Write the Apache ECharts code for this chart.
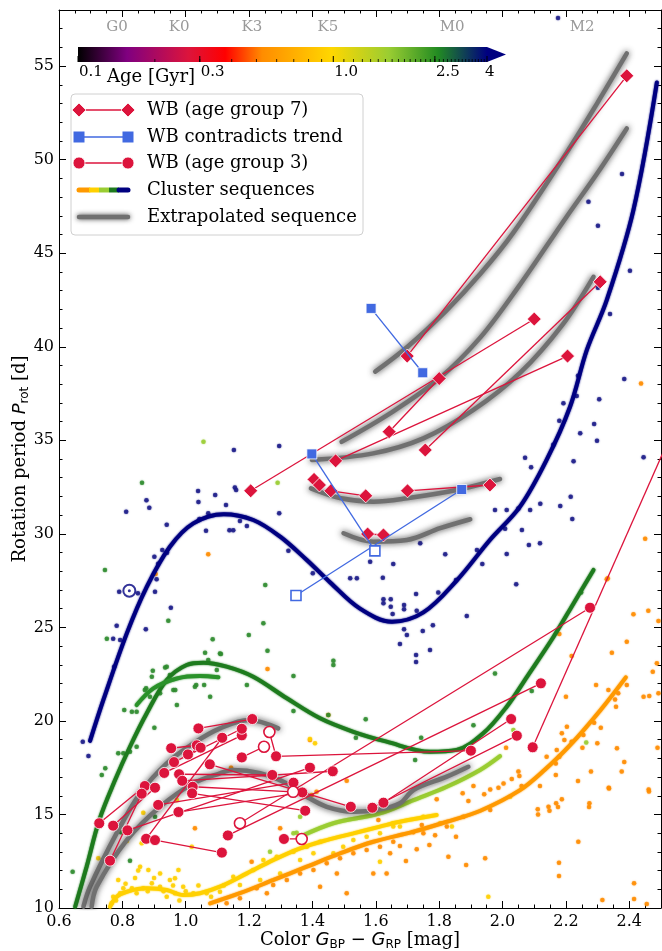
<!DOCTYPE html>
<html><head><meta charset="utf-8">
<script src="https://cdn.jsdelivr.net/npm/echarts/dist/echarts.min.js"></script>
<style>html,body{margin:0;padding:0;background:#fff}#c{width:662px;height:951px}</style>
</head><body><div id="c"></div>
<script>
// ---------------- data ----------------
const spectralTypes = ['G0', 'K0', 'K3', 'K5', 'M0', 'M2'];
const spectralColors = [0.783, 0.979, 1.209, 1.449, 1.841, 2.251];

const navyDots = [[0.812,31.18],[0.876,31.79],[0.885,31.40],[0.940,30.49],[1.039,32.29],[1.040,31.70],[1.093,32.07],[1.152,34.48],[1.155,32.47],[1.159,32.34],[1.127,31.54],[1.071,31.10],[1.043,30.79],[1.064,30.17],[1.138,30.19],[1.150,30.19],[1.171,30.69],[1.193,30.42],[1.295,34.69],[1.295,31.10],[0.926,29.14],[0.901,28.78],[0.913,28.40],[0.941,28.99],[0.908,27.57],[0.903,26.91],[0.849,26.82],[0.790,26.91],[0.953,26.05],[0.782,25.09],[0.771,24.39],[0.793,24.32],[0.874,24.90],[0.774,22.90],[0.675,18.89],[0.693,18.12],[1.324,29.10],[1.401,27.89],[1.582,28.51],[1.655,28.39],[1.740,29.49],[1.819,28.91],[1.919,29.14],[1.936,28.39],[2.013,28.92],[2.083,29.40],[2.087,31.27],[2.050,31.36],[2.013,31.27],[1.976,31.27],[2.071,34.07],[2.090,33.56],[1.540,27.62],[1.519,27.62],[1.622,27.65],[2.238,38.45],[2.384,38.27],[2.234,37.37],[2.192,36.98],[2.305,37.19],[2.179,36.05],[2.289,35.87],[2.245,35.37],[2.298,34.98],[2.160,34.76],[2.224,33.88],[2.445,34.09],[2.215,31.98],[2.182,31.49],[2.119,31.61],[2.220,30.79],[2.061,30.20],[2.008,30.27],[2.118,29.49],[2.377,49.24],[2.271,47.75],[2.301,46.47],[2.402,44.06],[2.301,43.16],[2.339,41.75],[1.624,26.50],[1.647,26.50],[1.624,26.29],[1.647,26.10],[1.689,26.20],[1.689,25.97],[1.653,25.71],[1.727,26.78],[1.797,26.87],[1.853,27.53],[2.043,27.30],[1.729,25.89],[1.780,25.11],[1.748,24.81],[1.689,24.90],[1.698,24.59],[1.676,24.11],[1.771,23.79],[1.727,23.52],[1.727,23.15],[1.887,25.61],[2.175,57.57]];
const greenDots = [[0.862,32.73],[0.745,28.07],[0.945,25.36],[0.751,24.39],[1.085,24.36],[1.111,23.58],[1.061,23.65],[1.071,23.26],[1.199,24.59],[1.245,25.22],[1.251,27.26],[1.193,21.92],[1.098,22.72],[1.058,21.92],[1.033,21.92],[0.950,22.45],[0.935,22.86],[0.896,22.68],[0.893,22.36],[0.875,21.74],[0.887,21.29],[0.919,21.48],[0.961,21.65],[1.077,21.29],[0.940,22.90],[0.871,21.65],[0.967,21.65],[1.029,21.83],[0.830,20.49],[0.845,20.49],[0.901,19.64],[0.787,18.27],[0.803,18.27],[0.824,18.35],[0.845,18.62],[0.746,17.47],[0.806,20.58],[0.972,20.85],[1.340,22.40],[1.450,20.32],[1.537,19.10],[1.568,20.09],[1.340,20.53],[1.466,23.22],[1.466,22.99],[1.108,23.61],[0.643,11.94],[0.824,12.53],[0.735,17.11],[0.796,14.05],[0.903,14.88],[1.976,22.54],[2.092,21.60],[1.908,19.77],[1.743,19.10],[1.724,17.91],[2.248,26.87],[1.258,23.75]];
const yellowGreenDots = [[1.290,32.73],[1.056,34.92],[1.361,14.88],[1.350,14.02],[1.340,13.99],[1.266,13.01],[2.034,19.51],[2.264,18.84]];
const yellowDots = [[0.866,15.09],[0.814,13.58],[0.724,12.66],[0.787,11.50],[0.803,11.05],[0.771,10.60],[0.766,10.25],[0.856,12.21],[0.882,12.03],[0.830,11.05],[0.866,11.05],[0.919,11.14],[0.950,11.50],[0.977,12.03],[0.992,11.14],[1.024,10.79],[1.066,10.79],[1.108,10.87],[0.919,11.85],[0.966,11.59],[0.893,11.32],[0.793,10.79],[0.845,10.79],[0.940,10.60],[0.966,10.79],[1.150,11.67],[1.213,12.03],[1.245,12.57],[1.287,12.74],[1.340,13.01],[1.382,13.28],[1.424,13.54],[1.171,11.23],[1.235,11.50],[1.298,11.85],[1.361,12.57],[1.403,12.92],[1.466,12.92],[1.497,13.28],[1.529,13.63],[1.571,13.81],[1.613,13.99],[1.655,14.35],[0.972,15.77],[0.861,13.46],[1.019,13.28],[1.840,14.35],[1.803,14.53],[1.750,14.88],[1.676,14.35],[1.655,14.53],[2.024,15.95],[1.955,10.60],[1.613,12.47],[1.392,19.03],[1.408,18.80],[0.78,10.4],[0.81,11.3],[0.84,11.6],[0.88,10.9],[0.90,11.6],[0.93,10.9],[0.96,11.2],[1.00,10.9],[1.04,11.2],[1.08,10.6],[0.85,12.0],[0.98,10.4],[1.12,11.2]];
const orangeDots = [[2.329,27.57],[2.413,25.70],[2.460,25.89],[2.492,25.34],[2.392,24.23],[2.487,23.08],[2.474,22.63],[2.345,23.65],[2.295,21.92],[2.392,21.92],[2.365,21.48],[2.334,21.65],[2.445,21.29],[2.463,21.33],[2.492,21.48],[2.355,21.15],[2.358,20.76],[2.200,21.29],[2.218,23.47],[2.179,24.65],[2.289,19.90],[2.310,19.64],[2.203,19.69],[2.187,19.34],[2.195,18.98],[2.218,18.89],[2.255,19.25],[2.252,18.57],[2.299,18.80],[2.361,18.54],[2.384,17.80],[2.376,17.29],[2.279,17.29],[2.238,16.79],[2.171,18.45],[2.179,18.09],[2.139,18.09],[2.168,17.73],[2.168,17.11],[2.118,16.52],[2.335,16.43],[2.274,15.60],[2.187,15.81],[2.169,15.60],[2.145,15.41],[2.111,15.28],[2.239,13.54],[2.178,12.42],[2.315,10.43],[2.415,11.32],[2.455,10.21],[2.461,16.34],[2.489,18.57],[2.050,17.29],[2.060,16.52],[2.011,18.57],[1.908,16.52],[1.874,16.13],[1.892,15.72],[1.961,16.34],[1.942,16.08],[1.987,16.43],[2.003,16.66],[2.029,16.90],[2.053,17.06],[1.961,15.24],[1.876,14.88],[1.792,15.81],[1.745,14.44],[1.769,13.37],[1.729,13.14],[1.676,13.31],[1.695,12.51],[1.829,12.74],[1.885,12.30],[1.945,12.66],[1.853,13.81],[1.787,13.89],[1.750,13.99],[1.824,14.35],[1.718,14.05],[1.143,17.50],[1.392,18.98],[1.398,16.04],[1.208,12.47],[1.224,11.05],[1.276,11.23],[1.319,11.50],[1.361,11.85],[1.403,12.03],[1.445,12.39],[1.487,12.66],[1.529,12.92],[1.571,13.10],[1.613,13.28],[1.655,13.54],[1.129,10.25],[1.171,10.52],[1.256,10.79],[1.424,11.14],[1.477,11.85],[1.508,10.79],[1.592,11.85],[1.634,11.85],[1.645,12.92],[1.608,14.70],[1.413,16.22],[1.029,14.26],[1.071,28.91],[0.905,27.85],[1.258,22.77],[2.437,38.04],[2.450,29.74],[2.332,27.62],[1.298,14.26],[1.450,20.32],[1.508,16.80],[2.112,15.0],[2.148,15.2],[2.175,15.40],[2.273,15.40],[2.336,16.39],[2.462,16.23],[2.178,11.71],[2.415,10.48]];

// cluster sequences
const seqOrange = [[1.077,10.25],[1.171,10.79],[1.277,11.50],[1.382,12.21],[1.487,12.92],[1.592,13.54],[1.719,14.08],[1.824,14.61],[1.93,15.2],[2.055,16.3],[2.134,17.4],[2.213,18.7],[2.31,20.6],[2.389,22.33]];
const seqYellow = [[0.761,10.07],[0.782,10.60],[0.814,10.87],[0.877,11.05],[0.940,10.96],[0.992,10.69],[1.045,10.79],[1.108,11.14],[1.193,11.85],[1.277,12.57],[1.361,13.19],[1.445,13.63],[1.529,13.99],[1.613,14.35],[1.676,14.61],[1.792,14.97]];
const seqYellowGreen = [[1.361,13.81],[1.466,14.53],[1.613,15.06],[1.719,15.77],[1.824,16.48],[1.929,17.38],[1.992,18.12]];
const seqGreen = [[0.651,10.07],[0.687,12.2],[0.727,14.7],[0.777,16.84],[0.824,18.62],[0.877,20.41],[0.940,22.19],[1.003,22.99],[1.056,23.11],[1.129,22.90],[1.213,22.36],[1.319,21.21],[1.424,20.14],[1.529,19.42],[1.634,18.89],[1.771,18.35],[1.855,18.45],[1.939,19.34],[2.013,20.76],[2.077,22.36],[2.161,24.50],[2.224,26.28],[2.287,28.07]];
const seqGreen2 = [[0.845,20.85],[0.898,21.74],[0.972,22.27],[1.045,22.40],[1.103,22.33]];
const seqNavy = [[0.698,18.93],[0.740,21.12],[0.814,24.68],[0.877,27.17],[0.950,29.31],[1.024,30.56],[1.120,31.05],[1.213,30.74],[1.298,29.85],[1.382,28.60],[1.456,27.4],[1.55,26.0],[1.651,25.3],[1.75,25.8],[1.855,27.5],[1.960,29.67],[2.055,31.45],[2.139,33.95],[2.213,36.79],[2.266,39.83],[2.329,42.50],[2.413,47.31],[2.487,54.13]];

// extrapolated sequences
const extrapA = [[1.598,38.67],[1.70,40.0],[1.824,41.96],[1.93,43.9],[2.034,46.1],[2.203,50.4],[2.298,53.0],[2.392,55.68]];
const extrapB = [[1.492,34.92],[1.645,36.44],[1.80,38.3],[1.93,40.5],[2.05,43.2],[2.2,46.9],[2.3,49.3],[2.392,51.67]];
const extrapC = [[1.398,33.95],[1.592,34.30],[1.750,35.10],[1.908,36.62],[2.055,38.6],[2.19,41.2],[2.287,43.74]];
const extrapD = [[1.395,32.43],[1.490,31.90],[1.592,31.72],[1.698,31.90],[1.855,32.34],[1.992,32.93]];
const extrapE = [[1.498,30.03],[1.592,29.58],[1.698,29.67],[1.803,30.30],[1.898,30.78]];
const extrapF = [[0.677,10.07],[0.698,11.14],[0.782,14.0],[0.856,16.13],[0.940,17.73],[1.024,18.80],[1.108,19.60],[1.20,20.05],[1.292,19.60]];
const extrapG = [[0.703,10.07],[0.719,11.14],[0.814,13.63],[0.919,15.41],[1.024,16.66],[1.108,17.20],[1.150,17.38],[1.235,17.20],[1.319,16.66],[1.382,15.95],[1.445,15.41],[1.529,15.15],[1.603,15.24],[1.676,15.60],[1.719,16.31],[1.824,17.02],[1.892,17.55]];

// wide binaries: [color, period, open(1)]
const wbGroup7 = [
  [[1.699,39.5],[2.392,54.48]],
  [[1.205,32.3],[2.10,41.48]],
  [[1.642,35.46],[1.80,38.3]],
  [[1.756,34.48],[2.308,43.47]],
  [[1.473,33.9],[2.205,39.5]],
  [[1.405,32.91],[1.422,32.61]],
  [[1.458,32.3],[1.568,32.03]],
  [[1.70,32.3],[1.96,32.61]],
  [[1.574,29.99],[1.624,29.94]]
];
const wbContra = [
  [[1.585,42.05],[1.748,38.61]],
  [[1.398,34.27],[1.597,29.09,1]],
  [[1.871,32.37],[1.348,26.7,1]]
];
const wbGroup3 = [
  [[0.727,14.53],[0.871,16.52]],
  [[0.771,14.40],[0.903,16.43]],
  [[0.761,12.53],[0.861,16.11]],
  [[0.816,14.15],[1.392,17.50]],
  [[0.875,13.70],[1.115,19.10]],
  [[0.903,13.63],[1.114,12.96]],
  [[1.076,17.68],[1.521,15.41]],
  [[1.264,19.41,1],[1.285,18.11],[1.900,18.41]],
  [[1.133,13.88],[2.121,22.01]],
  [[1.171,14.53,1],[2.276,26.05]],
  [[1.624,15.63],[2.027,20.10]],
  [[1.589,15.36],[2.045,19.21]],
  [[2.095,18.59],[2.56,36.4]],
  [[1.310,13.69],[1.366,13.69,1]],
  [[1.177,18.05],[1.247,18.62,1]],
  [[1.040,19.60],[1.210,20.10]],
  [[0.954,18.54],[1.035,18.70]],
  [[0.932,17.22],[1.177,19.23]],
  [[0.963,17.80],[1.177,19.58]],
  [[0.979,17.15],[1.273,17.11]],
  [[0.989,16.80],[1.464,17.31]],
  [[0.977,15.13],[1.368,16.18]],
  [[0.913,15.51],[1.340,16.70]],
  [[1.007,18.21],[1.047,18.57]],
  [[1.022,16.48],[1.339,16.21,1]],
  [[1.020,16.13],[1.377,15.20]]
];
const sunPoint = [[0.822, 26.96]];

// colour bar (age, Gyr)
const cbRange = [0.1, 4];
const cbLabels = [0.1, 0.3, 1.0, 2.5, 4];
const cbLabelText = ['0.1', '0.3', '1.0', '2.5', '4'];
const cbStops = [[0,'#000000'],[0.12,'#800080'],[0.27,'#dc143c'],[0.36,'#ff0000'],[0.45,'#ff8c00'],[0.62,'#ffd700'],[0.76,'#9acd32'],[0.88,'#228b22'],[1,'#000080']];

// ---------------- chart ----------------
const SERIF = 'DejaVu Serif';
const SANS = 'DejaVu Sans';
const RED = '#dc143c', BLUE = '#4169e1', GRAY = '#707070';
const chart = echarts.init(document.getElementById('c'), null, {renderer: 'canvas'});

const cbMinor = [];
for (let v = 0.2; v < 0.95; v += 0.1) cbMinor.push(+v.toFixed(1));
for (let v = 1.1; v < 3.95; v += 0.1) cbMinor.push(+v.toFixed(1));

function dots(data, color, z) {
  return {type: 'scatter', data, symbolSize: 4.5, z: z || 2, silent: true,
    itemStyle: {color, opacity: 0.8, shadowColor: color, shadowBlur: 1.5}};
}
function seq(data, color, width, z) {
  return {type: 'line', data, smooth: 0.35, symbol: 'none', z: z || 3, silent: true,
    lineStyle: {color, width: width || 4, cap: 'round', shadowColor: color, shadowBlur: 2}};
}
function gray(data) {
  return {type: 'line', data, smooth: 0.35, symbol: 'none', z: 4, silent: true,
    lineStyle: {color: GRAY, width: 4.5, cap: 'round', shadowColor: 'rgba(40,40,40,0.85)', shadowBlur: 6}};
}
function wb(groups, symbol, size, color, z) {
  return groups.map(g => ({
    type: 'line', z, silent: true, symbol, symbolSize: size, showAllSymbol: true,
    lineStyle: {color, width: 1.3},
    itemStyle: {color, borderColor: '#fff', borderWidth: 0.8},
    data: g.map(p => p[2] ? {value: [p[0], p[1]], itemStyle: {color: '#fff', borderColor: color, borderWidth: 1.6}} : {value: [p[0], p[1]]})
  }));
}

const tickAxisCommon = {type: 'value', min: 0.6, max: 2.5, gridIndex: 0, splitLine: {show: false}};
const series = [
  dots(orangeDots, '#ff8c00'),
  dots(yellowDots, '#ffd000'),
  dots(yellowGreenDots, '#9acd32'),
  dots(greenDots, '#2e8b2e'),
  dots(navyDots, '#1c1c88'),
  seq(seqOrange, '#ff9900'),
  seq(seqYellow, '#ffd000'),
  seq(seqYellowGreen, '#9acd32'),
  seq(seqGreen, '#1e7b1e'),
  seq(seqGreen2, '#2a922a'),
  seq(seqNavy, '#000080'),
  gray(extrapA), gray(extrapB), gray(extrapC), gray(extrapD), gray(extrapE), gray(extrapF), gray(extrapG),
  {type: 'scatter', data: sunPoint, symbol: 'circle', symbolSize: 12, z: 6,
    itemStyle: {color: '#fff', borderColor: '#000080', borderWidth: 2}},
  {type: 'scatter', data: sunPoint, symbol: 'circle', symbolSize: 3, z: 7, itemStyle: {color: '#000080'}},
  ...wb(wbGroup3, 'circle', 11, RED, 10),
  ...wb(wbGroup7, 'diamond', 14, RED, 11),
  ...wb(wbContra, 'rect', 10, BLUE, 12),
  {type: 'scatter', z: 5, silent: true, symbolSize: 0,
    data: spectralTypes.map((s, i) => ({name: s, value: [spectralColors[i], 57.1]})),
    label: {show: true, position: 'inside', formatter: p => p.name, color: '#808080', fontFamily: SERIF, fontSize: 15}},
  // colour bar
  {type: 'custom', xAxisIndex: 4, yAxisIndex: 4, silent: true, z: 20,
    data: [[cbRange[0], 0, cbRange[1], 1]],
    renderItem: (params, api) => {
      const a = api.coord([api.value(0), 1]);
      const b = api.coord([api.value(2), 0]);
      const grad = new echarts.graphic.LinearGradient(0, 0, 1, 0, cbStops.map(s => ({offset: s[0], color: s[1]})));
      return {type: 'group', children: [
        {type: 'rect', shape: {x: a[0], y: a[1], width: b[0] - a[0], height: b[1] - a[1]}, style: {fill: grad}},
        {type: 'polygon', shape: {points: [[b[0], a[1]], [b[0] + 19, (a[1] + b[1]) / 2], [b[0], b[1]]]}, style: {fill: '#000080'}}
      ]};
    }},
  {type: 'custom', xAxisIndex: 4, yAxisIndex: 4, silent: true, z: 21,
    data: cbMinor.map(v => [v]),
    renderItem: (params, api) => {
      const p = api.coord([api.value(0), 0]);
      return {type: 'line', shape: {x1: p[0], y1: p[1] - 3, x2: p[0], y2: p[1]}, style: {stroke: '#000', lineWidth: 0.8}};
    }},
  {type: 'custom', xAxisIndex: 4, yAxisIndex: 4, silent: true, z: 21,
    data: cbLabels.map((v, i) => [v, i]),
    renderItem: (params, api) => {
      const p = api.coord([api.value(0), 0]);
      const t = cbLabelText[api.value(1)];
      return {type: 'group', children: [
        {type: 'line', shape: {x1: p[0], y1: p[1] - 6, x2: p[0], y2: p[1]}, style: {stroke: '#000', lineWidth: 1}},
        {type: 'text', x: p[0] + (t === '4' ? -2 : 1), y: p[1] + 3, style: {text: t, fill: '#000', font: '15px "DejaVu Serif"', textAlign: 'left', textVerticalAlign: 'top'}}
      ]};
    }}
];

// legend graphic
const LX1 = 79, LX2 = 128, TX = 147;
const rows = [110, 137, 163, 190, 217];
const diamond = (cx, cy, r) => ({type: 'polygon', shape: {points: [[cx, cy - r], [cx + r, cy], [cx, cy + r], [cx - r, cy]]}, style: {fill: RED, stroke: '#fff', lineWidth: 0.8}});
const legendEls = [
  {type: 'rect', shape: {x: 71, y: 94, width: 292, height: 141, r: 4}, style: {fill: 'rgba(255,255,255,0.85)', stroke: '#d0d0d0', lineWidth: 1}},
  {type: 'line', shape: {x1: LX1, y1: rows[0], x2: LX2, y2: rows[0]}, style: {stroke: RED, lineWidth: 1.3}},
  diamond(LX1, rows[0], 7), diamond(LX2, rows[0], 7),
  {type: 'line', shape: {x1: LX1, y1: rows[1], x2: LX2, y2: rows[1]}, style: {stroke: BLUE, lineWidth: 1.3}},
  {type: 'rect', shape: {x: LX1 - 5.5, y: rows[1] - 5.5, width: 11, height: 11}, style: {fill: BLUE}},
  {type: 'rect', shape: {x: LX2 - 5.5, y: rows[1] - 5.5, width: 11, height: 11}, style: {fill: BLUE}},
  {type: 'line', shape: {x1: LX1, y1: rows[2], x2: LX2, y2: rows[2]}, style: {stroke: RED, lineWidth: 1.3}},
  {type: 'circle', shape: {cx: LX1, cy: rows[2], r: 6}, style: {fill: RED, stroke: '#fff', lineWidth: 0.8}},
  {type: 'circle', shape: {cx: LX2, cy: rows[2], r: 6}, style: {fill: RED, stroke: '#fff', lineWidth: 0.8}},
  {type: 'line', shape: {x1: LX1, y1: rows[3], x2: LX1 + 10, y2: rows[3]}, style: {stroke: '#ff9900', lineWidth: 5, lineCap: 'round'}},
  {type: 'line', shape: {x1: LX1 + 10, y1: rows[3], x2: LX1 + 20, y2: rows[3]}, style: {stroke: '#ffd000', lineWidth: 5}},
  {type: 'line', shape: {x1: LX1 + 20, y1: rows[3], x2: LX1 + 30, y2: rows[3]}, style: {stroke: '#9acd32', lineWidth: 5}},
  {type: 'line', shape: {x1: LX1 + 30, y1: rows[3], x2: LX1 + 40, y2: rows[3]}, style: {stroke: '#1e7b1e', lineWidth: 5}},
  {type: 'line', shape: {x1: LX1 + 40, y1: rows[3], x2: LX2, y2: rows[3]}, style: {stroke: '#000080', lineWidth: 5, lineCap: 'round'}},
  {type: 'line', shape: {x1: LX1, y1: rows[4], x2: LX2, y2: rows[4]}, style: {stroke: GRAY, lineWidth: 4.5, lineCap: 'round', shadowColor: 'rgba(40,40,40,0.85)', shadowBlur: 5}}
];
['WB (age group 7)', 'WB contradicts trend', 'WB (age group 3)', 'Cluster sequences', 'Extrapolated sequence'].forEach((t, i) => {
  legendEls.push({type: 'text', x: TX, y: rows[i], style: {text: t, fill: '#000', font: '18px "DejaVu Serif"', textVerticalAlign: 'middle'}});
});
legendEls.push({type: 'text', x: 107, y: 77, style: {text: 'Age [Gyr]', fill: '#000', font: '18px "DejaVu Serif"', textVerticalAlign: 'middle'}});

const option = {
  animation: false,
  backgroundColor: '#fff',
  grid: [
    {left: 59, right: 1, top: 10, bottom: 43, show: false, containLabel: false, outerBoundsMode: 'none'},
    {left: 78, width: 409, top: 47, height: 15, show: false, containLabel: false, outerBoundsMode: 'none'}
  ],
  xAxis: [
    Object.assign({}, tickAxisCommon, {position: 'bottom', interval: 0.2,
      axisLine: {show: true, onZero: false, lineStyle: {color: '#000', width: 1}},
      axisTick: {show: true, inside: true, length: 7, lineStyle: {color: '#000'}},
      axisLabel: {show: true, showMaxLabel: false, color: '#000', fontFamily: SERIF, fontSize: 16, margin: 6, formatter: v => v.toFixed(1)},
      name: '{n|Color }{i|G}{s|BP}{m| − }{i|G}{s|RP}{n| [mag]}', nameLocation: 'middle', nameGap: 22, nameMoveOverlap: false,
      nameTextStyle: {rich: {
        n: {fontFamily: SERIF, fontSize: 18, color: '#000'},
        m: {fontFamily: SANS, fontSize: 18, color: '#000'},
        i: {fontFamily: SANS, fontStyle: 'italic', fontSize: 18, color: '#000'},
        s: {fontFamily: SANS, fontSize: 12, color: '#000', padding: [9, 0, 0, 0]}
      }}}),
    Object.assign({}, tickAxisCommon, {position: 'bottom', interval: 0.05,
      axisLine: {show: false, onZero: false}, axisLabel: {show: false},
      axisTick: {show: true, inside: true, length: 3.5, lineStyle: {color: '#000'}}}),
    Object.assign({}, tickAxisCommon, {position: 'top', interval: 0.2,
      axisLine: {show: true, onZero: false, lineStyle: {color: '#000', width: 1}}, axisLabel: {show: false},
      axisTick: {show: true, inside: true, length: 7, lineStyle: {color: '#000'}}}),
    Object.assign({}, tickAxisCommon, {position: 'top', interval: 0.05,
      axisLine: {show: false, onZero: false}, axisLabel: {show: false},
      axisTick: {show: true, inside: true, length: 3.5, lineStyle: {color: '#000'}}}),
    {type: 'log', logBase: 10, gridIndex: 1, min: cbRange[0], max: cbRange[1], show: false}
  ],
  yAxis: [
    {type: 'value', gridIndex: 0, min: 10, max: 58, interval: 5, position: 'left', splitLine: {show: false},
      axisLine: {show: true, onZero: false, lineStyle: {color: '#000', width: 1}},
      axisTick: {show: true, inside: true, length: 7, lineStyle: {color: '#000'}},
      axisLabel: {show: true, showMaxLabel: false, color: '#000', fontFamily: SERIF, fontSize: 16, margin: 5},
      name: '{n|Rotation period }{i|P}{s|rot}{n| [d]}', nameLocation: 'middle', nameGap: 28, nameRotate: 90, nameMoveOverlap: false,
      nameTextStyle: {rich: {
        n: {fontFamily: SERIF, fontSize: 18, color: '#000'},
        i: {fontFamily: SANS, fontStyle: 'italic', fontSize: 18, color: '#000'},
        s: {fontFamily: SANS, fontSize: 12, color: '#000', padding: [9, 0, 0, 0]}
      }}},
    {type: 'value', gridIndex: 0, min: 10, max: 58, interval: 1, position: 'left', splitLine: {show: false},
      axisLine: {show: false, onZero: false}, axisLabel: {show: false},
      axisTick: {show: true, inside: true, length: 3.5, lineStyle: {color: '#000'}}},
    {type: 'value', gridIndex: 0, min: 10, max: 58, interval: 5, position: 'right', splitLine: {show: false},
      axisLine: {show: true, onZero: false, lineStyle: {color: '#000', width: 1}}, axisLabel: {show: false},
      axisTick: {show: true, inside: true, length: 7, lineStyle: {color: '#000'}}},
    {type: 'value', gridIndex: 0, min: 10, max: 58, interval: 1, position: 'right', splitLine: {show: false},
      axisLine: {show: false, onZero: false}, axisLabel: {show: false},
      axisTick: {show: true, inside: true, length: 3.5, lineStyle: {color: '#000'}}},
    {type: 'value', gridIndex: 1, min: 0, max: 1, show: false}
  ],
  series: series,
  graphic: [{type: 'group', z: 100, children: legendEls}]
};
chart.setOption(option);
</script>
</body></html>
